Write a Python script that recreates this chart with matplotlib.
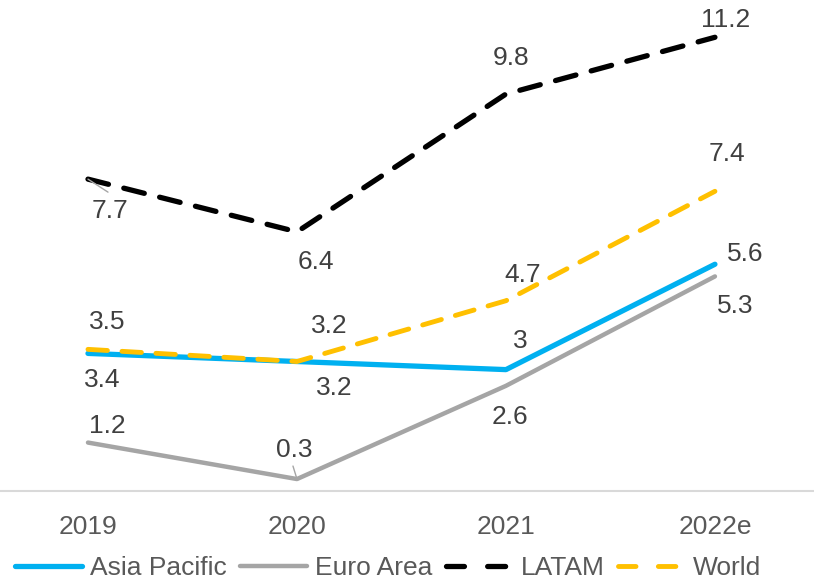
import numpy as np
import matplotlib.pyplot as plt
from matplotlib.lines import Line2D

years = ['2019', '2020', '2021', '2022e']
asia_pacific = [3.4, 3.2, 3.0, 5.6]
euro_area = [1.2, 0.3, 2.6, 5.3]
latam = [7.7, 6.4, 9.8, 11.2]
world = [3.5, 3.2, 4.7, 7.4]

asia_lbl = ['3.4', '3.2', '3', '5.6']
euro_lbl = ['1.2', '0.3', '2.6', '5.3']
latam_lbl = ['7.7', '6.4', '9.8', '11.2']
world_lbl = ['3.5', '3.2', '4.7', '7.4']

fig = plt.figure(figsize=(8.14, 5.82), dpi=100)
ax = fig.add_axes([0, 0.156, 1, 0.844])
x = np.arange(len(years))

ax.plot(x, asia_pacific, color='#00B0F0', lw=3.8, solid_capstyle='round', zorder=3)
ax.plot(x, euro_area, color='#A5A5A5', lw=3.2, solid_capstyle='round', zorder=2)
ax.plot(x, latam, color='black', lw=3.8, dashes=(4, 3), dash_capstyle='round', zorder=3)
ax.plot(x, world, color='#FFC000', lw=3.5, dashes=(4, 3), dash_capstyle='round', zorder=4)

# label offsets in pixels (dx, dy) for each point
offs = {
    'latam': [(22, -32), (19, -30), (5, 36), (11, 17)],
    'world': [(19, 27), (32, 36), (17, 26), (12, 37)],
    'asia': [(14, -27), (37, -26), (14, 29), (30, 10)],
    'euro': [(19, 17), (-3, 29), (4, -31), (20, -30)],
}
series = [('latam', latam, latam_lbl), ('world', world, world_lbl),
          ('asia', asia_pacific, asia_lbl), ('euro', euro_area, euro_lbl)]
for key, vals, lbls in series:
    for i, (v, t) in enumerate(zip(vals, lbls)):
        dx, dy = offs[key][i]
        ax.annotate(t, (x[i], v), xytext=(dx, dy), textcoords='offset pixels',
                    ha='center', va='center', fontsize=19, color='#404040',
                    family='Liberation Sans', zorder=5)

# leader lines for the labels pushed away from their points
ax.annotate('', (x[0], latam[0]), xytext=(20, -13), textcoords='offset pixels',
            arrowprops=dict(arrowstyle='-', color='#A5A5A5', lw=1, shrinkA=0, shrinkB=0), zorder=4)
ax.annotate('', (x[1], euro_area[1]), xytext=(-4, 13), textcoords='offset pixels',
            arrowprops=dict(arrowstyle='-', color='#A5A5A5', lw=1, shrinkA=0, shrinkB=0), zorder=4)

ax.set_xlim(-0.421, 3.474)
ax.set_ylim(0, 12.12)
ax.set_xticks(x)
ax.set_xticklabels(years, fontsize=19, color='#595959', family='Liberation Sans')
ax.tick_params(axis='x', length=0, pad=17)
ax.set_yticks([])
for s in ['top', 'left', 'right']:
    ax.spines[s].set_visible(False)
ax.spines['bottom'].set_color('#D9D9D9')
ax.spines['bottom'].set_linewidth(1.5)

# legend keys: two dashes per dashed key
handles = [
    Line2D([], [], color='#00B0F0', lw=3.8, solid_capstyle='round'),
    Line2D([], [], color='#A5A5A5', lw=3.2, solid_capstyle='round'),
    Line2D([], [], color='black', lw=3.8, dashes=(3.4, 4.4), dash_capstyle='round'),
    Line2D([], [], color='#FFC000', lw=3.5, dashes=(3.6, 4.6), dash_capstyle='round'),
]
names = ['Asia Pacific', 'Euro Area', 'LATAM', 'World']
leg = fig.legend(handles, names, loc='center', bbox_to_anchor=(0.477, 0.024), ncol=4,
                 frameon=False, handlelength=2.55, handletextpad=0.3, columnspacing=0.5,
                 borderpad=0, prop={'family': 'Liberation Sans', 'size': 19})
for t in leg.get_texts():
    t.set_color('#595959')

fig.savefig('out.png', dpi=100)
